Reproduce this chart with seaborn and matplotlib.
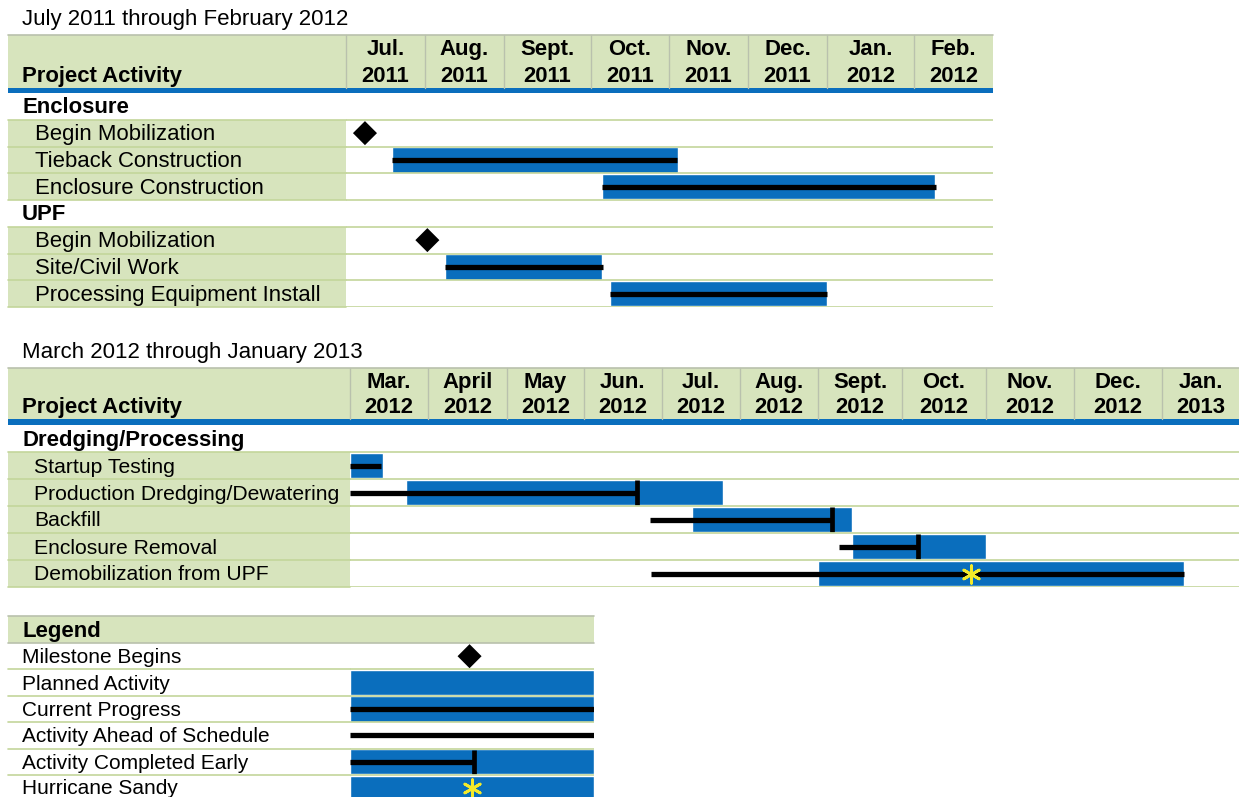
import numpy as np
import matplotlib
matplotlib.use("Agg")
import matplotlib.pyplot as plt
from matplotlib.patches import Rectangle
import seaborn as sns

# ---------------- data ----------------
top_title = "July 2011 through February 2012"
top_months = ["Jul.", "Aug.", "Sept.", "Oct.", "Nov.", "Dec.", "Jan.", "Feb."]
top_years = ["2011", "2011", "2011", "2011", "2011", "2011", "2012", "2012"]
top_rows = ["Enclosure", "Begin Mobilization", "Tieback Construction", "Enclosure Construction",
            "UPF", "Begin Mobilization", "Site/Civil Work", "Processing Equipment Install"]
top_is_group = [True, False, False, False, True, False, False, False]

# months counted from the start of the first column
top_plan_row = [2, 3, 6, 7]
top_plan_start = [0.58, 3.14, 1.25, 3.24]
top_plan_end = [4.11, 7.27, 3.14, 6.00]
top_prog_row = [2, 3, 6, 7]
top_prog_start = [0.58, 3.14, 1.25, 3.24]
top_prog_end = [4.10, 7.28, 3.15, 6.00]
top_prog_tick = [False, False, False, False]
top_mile_row = [1, 5]
top_mile_x = [0.24, 1.03]

bot_title = "March 2012 through January 2013"
bot_months = ["Mar.", "April", "May", "Jun.", "Jul.", "Aug.", "Sept.", "Oct.", "Nov.", "Dec.", "Jan."]
bot_years = ["2012"] * 10 + ["2013"]
bot_rows = ["Dredging/Processing", "Startup Testing", "Production Dredging/Dewatering", "Backfill",
            "Enclosure Removal", "Demobilization from UPF"]
bot_is_group = [True, False, False, False, False, False]

bot_plan_row = [1, 2, 3, 4, 5]
bot_plan_start = [0.00, 0.72, 4.38, 6.40, 6.00]
bot_plan_end = [0.42, 4.78, 6.40, 8.00, 10.29]
bot_prog_row = [1, 2, 3, 4, 5]
bot_prog_start = [0.00, 0.00, 3.85, 6.25, 3.86]
bot_prog_end = [0.40, 3.68, 6.17, 7.19, 10.28]
bot_prog_tick = [False, True, True, True, False]
bot_star_row = [5]
bot_star_x = [7.82]

legend_title = "Legend"
legend_rows = ["Milestone Begins", "Planned Activity", "Current Progress",
               "Activity Ahead of Schedule", "Activity Completed Early", "Hurricane Sandy"]
legend_mile_row = [0]
legend_mile_x = [0.49]
legend_plan_row = [1, 2, 4, 5]
legend_plan_start = [0.0, 0.0, 0.0, 0.0]
legend_plan_end = [1.0, 1.0, 1.0, 1.0]
legend_prog_row = [2, 3, 4]
legend_prog_start = [0.0, 0.0, 0.0]
legend_prog_end = [1.0, 1.0, 0.51]
legend_prog_tick = [False, False, True]
legend_star_row = [5]
legend_star_x = [0.5]

# ---------------- style ----------------
W, H = 1239, 797
BLUE = "#0a6ebd"
GREEN = "#d7e4bd"
LINE = "#c3d69b"
SEP = "#b9c1ad"
STAR = "#f4ea2a"
FS = 15.9
DY = 1.5  # small baseline nudge for text

sns.set_theme(style="white")
plt.rcParams["font.family"] = ["Liberation Sans", "DejaVu Sans"]
plt.rcParams["text.color"] = "black"

fig = plt.figure(figsize=(W / 100, H / 100), dpi=100)
frame = fig.add_axes([0, 0, 1, 1])
frame.set_xlim(0, W)
frame.set_ylim(H, 0)
frame.axis("off")


def month_scale(edges):
    e = np.asarray(edges, float)
    m = np.arange(len(e), dtype=float)

    def fwd(x):
        x = np.asarray(x, float)
        y = np.interp(x, m, e)
        y = np.where(x < 0, e[0] + x * (e[1] - e[0]), y)
        return np.where(x > m[-1], e[-1] + (x - m[-1]) * (e[-1] - e[-2]), y)

    def inv(p):
        p = np.asarray(p, float)
        y = np.interp(p, e, m)
        y = np.where(p < e[0], (p - e[0]) / (e[1] - e[0]), y)
        return np.where(p > e[-1], m[-1] + (p - e[-1]) / (e[-1] - e[-2]), y)

    return fwd, inv


def draw_marks(ax, plans, progs, miles, stars):
    rows, start, end = plans
    rows = np.asarray(rows) + 0.5
    ax.barh(rows, np.subtract(end, start), left=start, height=0.96, color=BLUE, zorder=2)
    rows, start, end, tick = progs
    rows = np.asarray(rows) + 0.5
    ax.hlines(rows, start, end, color="black", lw=3.8, zorder=3, capstyle="butt")
    for r, x, t in zip(rows, end, tick):
        if t:
            ax.vlines(x, r - 0.45, r + 0.45, color="black", lw=3.4, zorder=3)
    if miles:
        sns.scatterplot(x=miles[1], y=np.asarray(miles[0]) + 0.5, marker="D", s=150,
                        color="black", edgecolor="none", ax=ax, zorder=4, legend=False)
    if stars:
        sns.scatterplot(x=stars[1], y=np.asarray(stars[0]) + 0.5, marker=(6, 2, 0), s=160,
                        color=STAR, linewidth=2.0, ax=ax, zorder=5, legend=False)


def draw_table(lay, title, months, years, rows, is_group, plans, progs, miles=None, stars=None):
    left, split, right = lay["left"], lay["split"], lay["right"]
    top, hb, bt, rh = lay["hdr_top"], lay["hdr_bot"], lay["body_top"], lay["row_h"]
    edges = lay["edges"]
    n = len(rows)

    frame.text(22, lay["title_y"] + DY, title, fontsize=16.0, va="center", ha="left")
    frame.add_patch(Rectangle((left, top), right - left, hb - top, fc=GREEN, ec="none"))
    frame.plot([left, right], [top, top], color=SEP, lw=1.2)
    for x in edges[:-1]:
        frame.plot([x, x], [top, hb], color=SEP, lw=1)
    frame.text(22, hb - 13 + DY, "Project Activity", fontsize=FS, fontweight="bold", va="center")
    for i, (mo, yr) in enumerate(zip(months, years)):
        cx = (edges[i] + edges[i + 1]) / 2
        frame.text(cx, top + 13 + DY, mo, fontsize=FS, fontweight="bold", ha="center", va="center")
        frame.text(cx, hb - 13 + DY, yr, fontsize=FS, fontweight="bold", ha="center", va="center")
    frame.add_patch(Rectangle((left, hb), right - left, bt - hb, fc=BLUE, ec="none"))

    for i, (lab, grp) in enumerate(zip(rows, is_group)):
        y0 = bt + i * rh
        if not grp:
            frame.add_patch(Rectangle((left, y0), split - left, rh, fc=GREEN, ec="none"))
        frame.text(22 if grp else lay["indent"], y0 + rh / 2 + DY, lab,
                   fontsize=FS if grp else lay["fs"],
                   fontweight="bold" if grp else "normal", va="center", ha="left")

    ax = fig.add_axes([split / W, 1 - (bt + n * rh) / H, (right - split) / W, n * rh / H])
    ax.set_xscale("function", functions=month_scale(edges))
    ax.patch.set_visible(False)
    draw_marks(ax, plans, progs, miles, stars)
    for i in range(n):
        ax.axhline(i + 1, color=LINE, lw=1.2, zorder=6)
    ax.set_xlim(0, len(months))
    ax.set_ylim(n, 0)
    ax.axis("off")
    for i in range(n):
        frame.plot([left, split], [bt + (i + 1) * rh] * 2, color=LINE, lw=1.2)


top_layout = dict(left=8, split=346, right=993, title_y=18, hdr_top=35, hdr_bot=88,
                  body_top=93, row_h=26.75, indent=35, fs=15.9,
                  edges=[346, 425, 504, 591, 669, 748, 827, 914, 993])
bot_layout = dict(left=8, split=350, right=1239, title_y=351, hdr_top=368, hdr_bot=419,
                  body_top=425, row_h=27.0, indent=34, fs=15.2,
                  edges=[350, 428, 507, 584, 662, 740, 818, 902, 986, 1074, 1162, 1239])

draw_table(top_layout, top_title, top_months, top_years, top_rows, top_is_group,
           (top_plan_row, top_plan_start, top_plan_end),
           (top_prog_row, top_prog_start, top_prog_end, top_prog_tick),
           miles=(top_mile_row, top_mile_x))
draw_table(bot_layout, bot_title, bot_months, bot_years, bot_rows, bot_is_group,
           (bot_plan_row, bot_plan_start, bot_plan_end),
           (bot_prog_row, bot_prog_start, bot_prog_end, bot_prog_tick),
           stars=(bot_star_row, bot_star_x))

# ---------------- legend table ----------------
lg_left, lg_split, lg_right = 8, 350, 594
lg_top, lg_body, lg_rh = 616, 643, 26.4
LFS = 15.0
frame.add_patch(Rectangle((lg_left, lg_top), lg_right - lg_left, lg_body - lg_top, fc=GREEN, ec="none"))
frame.plot([lg_left, lg_right], [lg_top, lg_top], color=SEP, lw=1.2)
frame.plot([lg_left, lg_right], [lg_body, lg_body], color=SEP, lw=1.2)
frame.text(22, (lg_top + lg_body) / 2 + DY, legend_title, fontsize=FS, fontweight="bold", va="center")
nl = len(legend_rows)
for i, lab in enumerate(legend_rows):
    frame.text(22, lg_body + (i + 0.5) * lg_rh + DY - (1 if i == nl - 1 else 0), lab,
               fontsize=LFS, va="center")
    frame.plot([lg_left, lg_split], [lg_body + (i + 1) * lg_rh] * 2, color=LINE, lw=1.2)

lax = fig.add_axes([lg_split / W, 1 - (lg_body + nl * lg_rh) / H,
                    (lg_right - lg_split) / W, nl * lg_rh / H])
lax.patch.set_visible(False)
draw_marks(lax, (legend_plan_row, legend_plan_start, legend_plan_end),
           (legend_prog_row, legend_prog_start, legend_prog_end, legend_prog_tick),
           (legend_mile_row, legend_mile_x), (legend_star_row, legend_star_x))
for i in range(nl):
    lax.axhline(i + 1, color=LINE, lw=1.2, zorder=6)
lax.set_xlim(0, 1)
lax.set_ylim(nl, 0)
lax.axis("off")

fig.savefig("out.png", dpi=100)
